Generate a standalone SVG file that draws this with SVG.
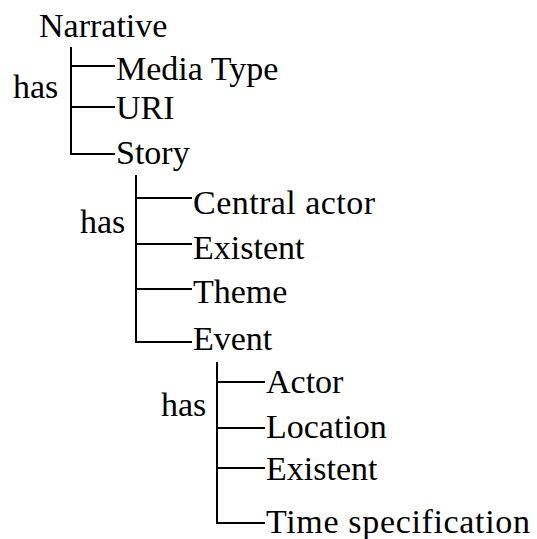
<svg xmlns="http://www.w3.org/2000/svg" width="537" height="539" viewBox="0 0 537 539">
<style>
text{font-family:"Liberation Serif","Times New Roman",serif;font-size:34px;fill:#000}
.c{stroke:#000;stroke-width:2;fill:none}
</style>
<rect width="537" height="539" fill="#fff"/>
<g id="connectors">
<path class="c" d="M71,47V154H115M71,66H115M71,107H115"/>
<path class="c" d="M136,175V342H192M136,198H192M136,244H192M136,289H192"/>
<path class="c" d="M217,362V523H265M217,382H265M217,428H265M217,468H265"/>
</g>
<g id="narrative"><text x="39" y="37">Narrative</text></g>
<g id="has1"><text x="13" y="98">has</text></g>
<g id="media-type"><text x="116" y="80">Media Type</text></g>
<g id="uri"><text x="116" y="119">URI</text></g>
<g id="story"><text x="116" y="164">Story</text></g>
<g id="has2"><text x="80" y="233">has</text></g>
<g id="central-actor"><text x="193" y="214" textLength="182" lengthAdjust="spacing">Central actor</text></g>
<g id="existent1"><text x="193" y="259">Existent</text></g>
<g id="theme"><text x="193" y="303">Theme</text></g>
<g id="event"><text x="193" y="350">Event</text></g>
<g id="has3"><text x="161" y="416">has</text></g>
<g id="actor"><text x="266" y="393">Actor</text></g>
<g id="location"><text x="266" y="438">Location</text></g>
<g id="existent2"><text x="266" y="480">Existent</text></g>
<g id="time-spec"><text x="266" y="533" textLength="264" lengthAdjust="spacing">Time specification</text></g>
</svg>
